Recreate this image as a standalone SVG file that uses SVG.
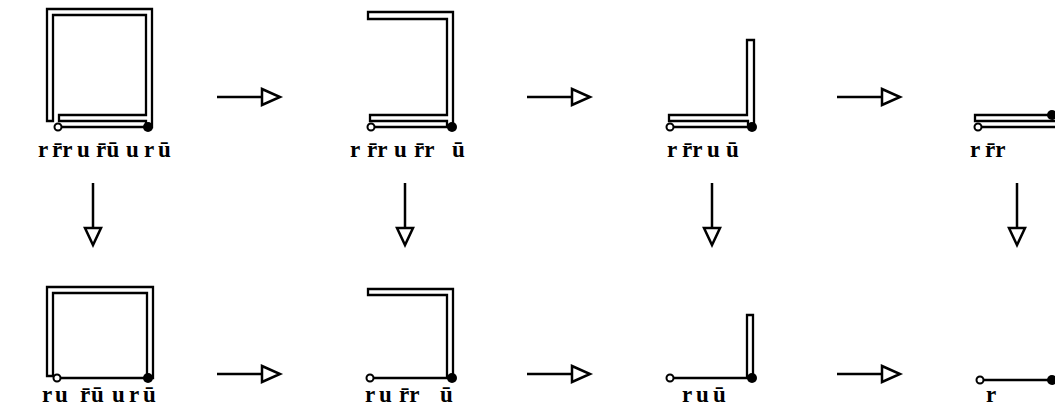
<svg xmlns="http://www.w3.org/2000/svg" xmlns:xlink="http://www.w3.org/1999/xlink" width="1055" height="409" viewBox="0 0 1055 409">
<style>
.rib{fill:none;stroke:#000;stroke-width:2.3;stroke-linejoin:miter;stroke-linecap:square}
.o{fill:#fff;stroke:#000;stroke-width:2}
.d{fill:#000}
.arr{fill:#fff;stroke:#000;stroke-width:2.5;stroke-linejoin:miter}
.lbl{font-family:"Liberation Serif",serif;font-weight:bold;font-size:23px;fill:#000}
</style>
<defs>
<g id="harr"><path class="arr" d="M0,0 H45"/><path class="arr" d="M45,-8 L63,0 L45,8 Z"/></g>
<g id="varr"><path class="arr" d="M0,0 V45"/><path class="arr" d="M-8,45 L8,45 L0,62 Z"/></g>
</defs>
<rect width="1055" height="409" fill="#fff"/>
<g id="connectors">
<use xlink:href="#harr" x="217" y="97"/>
<use xlink:href="#harr" x="527" y="97"/>
<use xlink:href="#harr" x="837" y="97"/>
<use xlink:href="#harr" x="217" y="374"/>
<use xlink:href="#harr" x="527" y="374"/>
<use xlink:href="#harr" x="837" y="374"/>
<use xlink:href="#varr" x="93" y="183"/>
<use xlink:href="#varr" x="405" y="183"/>
<use xlink:href="#varr" x="712" y="183"/>
<use xlink:href="#varr" x="1017" y="183"/>
</g>
<g id="top1">
<path class="rib" d="M58,127 H146 V121 H59 V115 H146 V15 H53 V121 H47 V9 H152 V127 H146"/>
<circle class="o" cx="58" cy="127" r="3.5"/><circle class="d" cx="148" cy="127" r="5"/>
<text class="lbl" y="157"><tspan x="38">r</tspan><tspan x="52">r̄r</tspan><tspan x="77">u</tspan><tspan x="96">r̄</tspan><tspan x="106.5">ū</tspan><tspan x="126">u</tspan><tspan x="144">r</tspan><tspan x="158">ū</tspan></text>
</g>
<g id="top2">
<path class="rib" d="M371,127 H447 V121 H370 V115 H447 V19 H368 V12 H453 V127 H447"/>
<circle class="o" cx="371" cy="127" r="3.5"/><circle class="d" cx="452" cy="127" r="5"/>
<text class="lbl" y="157"><tspan x="350">r</tspan><tspan x="367">r̄r</tspan><tspan x="394">u</tspan><tspan x="414">r̄r</tspan><tspan x="452">ū</tspan></text>
</g>
<g id="top3">
<path class="rib" d="M670,127 H748 V121 H669 V115 H747 V40 H754 V127 H748"/>
<circle class="o" cx="670" cy="127" r="3.5"/><circle class="d" cx="752" cy="127" r="5"/>
<text class="lbl" y="157"><tspan x="667">r</tspan><tspan x="682">r̄r</tspan><tspan x="707">u</tspan><tspan x="726">ū</tspan></text>
</g>
<g id="top4">
<path class="rib" d="M978,127 H1060 V121 H975 V115 H1052"/>
<circle class="o" cx="978" cy="127" r="3.5"/><circle class="d" cx="1052" cy="115" r="5"/>
<text class="lbl" y="157"><tspan x="970">r</tspan><tspan x="985">r̄r</tspan></text>
</g>
<g id="bot1">
<path class="rib" d="M57,378 H147 V293 H53 V376 H47 V287 H153 V378 H147"/>
<circle class="o" cx="57" cy="378" r="3.5"/><circle class="d" cx="148" cy="378" r="5"/>
<text class="lbl" y="402"><tspan x="42">r</tspan><tspan x="55">u</tspan><tspan x="80">r̄</tspan><tspan x="91">ū</tspan><tspan x="112">u</tspan><tspan x="129">r</tspan><tspan x="143">ū</tspan></text>
</g>
<g id="bot2">
<path class="rib" d="M370,378 H447 V295 H368 V289 H453 V378 H447"/>
<circle class="o" cx="370" cy="378" r="3.5"/><circle class="d" cx="452" cy="378" r="5"/>
<text class="lbl" y="402"><tspan x="365">r</tspan><tspan x="379">u</tspan><tspan x="399">r̄r</tspan><tspan x="440">ū</tspan></text>
</g>
<g id="bot3">
<path class="rib" d="M670,378 H747 V315 H753 V378 H747"/>
<circle class="o" cx="670" cy="378" r="3.5"/><circle class="d" cx="752" cy="378" r="5"/>
<text class="lbl" y="402"><tspan x="682">r</tspan><tspan x="696">u</tspan><tspan x="713">ū</tspan></text>
</g>
<g id="bot4">
<path class="rib" d="M980,380 H1052"/>
<circle class="o" cx="980" cy="380" r="3.5"/><circle class="d" cx="1052" cy="380" r="5"/>
<text class="lbl" y="402"><tspan x="986">r</tspan></text>
</g>
</svg>
